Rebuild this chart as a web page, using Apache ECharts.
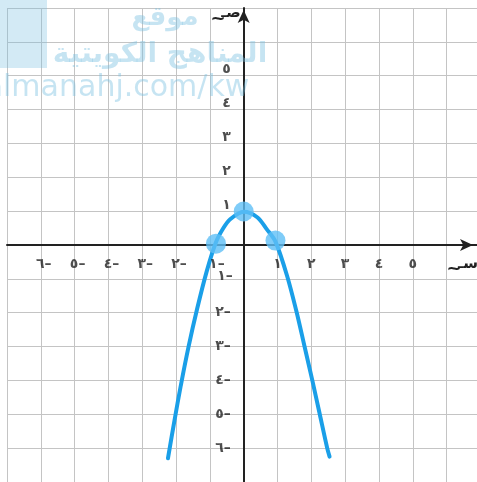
<!DOCTYPE html>
<html>
<head>
<meta charset="utf-8">
<script src="https://cdn.jsdelivr.net/npm/echarts@6/dist/echarts.min.js"></script>
<style>html,body{margin:0;padding:0;background:#fff;}#c{width:477px;height:482px;}</style>
</head>
<body>
<div id="c"></div>
<script>
// Curve
const curveX = [-2.24, -2.05, -1.86, -1.63, -1.38, -1.1, -0.82, -0.6, -0.4, 0, 0.4, 0.68, 0.94, 1.28, 1.57, 1.8, 2.03, 2.25, 2.47, 2.54];
const curveY = [-6.3, -5.2, -4.15, -3, -1.9, -0.8, 0.08, 0.5, 0.76, 0.98, 0.82, 0.47, 0.1, -0.9, -2, -3, -4, -5, -6, -6.25];
// Marked points
const pointX = [-0.82, 0, 0.94];
const pointY = [0.04, 0.99, 0.13];
// Tick labels
const xTickValues = [-6, -5, -4, -3, -2, -1, 1, 2, 3, 4, 5];
const yTickValues = [-6, -5, -4, -3, -2, -1, 1, 2, 3, 4, 5];
const arabicDigits = ['٠','١','٢','٣','٤','٥','٦','٧','٨','٩'];
const xName = 'سـ';
const yName = 'صـ';

const LRO = '\u202D', PDF = '\u202C';
function toArabic(v) {
  const d = String(Math.abs(v)).split('').map(c => arabicDigits[+c]).join('');
  return LRO + (v < 0 ? d + '–' : d) + PDF;
}

const chart = echarts.init(document.getElementById('c'), null, {renderer: 'canvas'});
const lblFont = {fontFamily: 'DejaVu Sans', fontWeight: 'bold', fontSize: 14, color: '#222'};

function xOffset(v) { return v === -1 ? [7, 19] : (v < 0 ? [3, 19] : [0, 19]); }
function yOffset(v) { return v > 0 ? [-13, -6] : (v === -1 ? [-11, -2] : [-13, 0]); }

chart.setOption({
  animation: false,
  backgroundColor: '#fff',
  grid: {left: 7, right: 0, top: 8, bottom: 0, containLabel: false, outerBoundsMode: 'none'},
  xAxis: {
    type: 'value', min: -7, max: 6.9, interval: 1,
    axisLine: {show: true, onZero: true, lineStyle: {color: '#222', width: 2}, symbol: ['none', 'arrow'], symbolSize: [9, 13], symbolOffset: [0, -4]},
    axisTick: {show: false},
    splitLine: {show: true, lineStyle: {color: '#c4c4c4', width: 1}},
    axisLabel: {show: false}
  },
  yAxis: {
    type: 'value', min: -7, max: 7, interval: 1,
    axisLine: {show: true, onZero: true, lineStyle: {color: '#222', width: 2}, symbol: ['none', 'arrow'], symbolSize: [9, 13], symbolOffset: [0, -2]},
    axisTick: {show: false},
    splitLine: {show: true, lineStyle: {color: '#c4c4c4', width: 1}},
    axisLabel: {show: false}
  },
  graphic: [
    {type: 'rect', shape: {x: 0, y: 0, width: 47, height: 68}, style: {fill: 'rgba(120,190,225,0.33)'}, z: 100, silent: true},
    {type: 'text', x: 165, y: 18, style: {text: 'موقع', font: 'bold 26px "DejaVu Sans"', fill: 'rgba(120,190,225,0.42)', align: 'center', verticalAlign: 'middle'}, z: 100},
    {type: 'text', x: 160, y: 55, style: {text: 'المناهج الكويتية', font: 'bold 28px "DejaVu Sans"', fill: 'rgba(120,190,225,0.42)', align: 'center', verticalAlign: 'middle'}, z: 100},
    {type: 'text', x: 117, y: 88, style: {text: 'almanahj.com/kw', font: '30px "DejaVu Sans"', fill: 'rgba(120,190,225,0.42)', align: 'center', verticalAlign: 'middle'}, z: 100},
    {type: 'text', x: 454, y: 269, style: {text: '~', font: 'bold 18px "DejaVu Sans"', fill: '#222', align: 'center', verticalAlign: 'middle'}, z: 100},
    {type: 'text', x: 468, y: 264, style: {text: xName, font: 'bold 15px "DejaVu Sans"', fill: '#222', align: 'center', verticalAlign: 'middle'}, z: 100},
    {type: 'text', x: 218, y: 19, style: {text: '~', font: 'bold 18px "DejaVu Sans"', fill: '#222', align: 'center', verticalAlign: 'middle'}, z: 100},
    {type: 'text', x: 231, y: 13, style: {text: yName, font: 'bold 15px "DejaVu Sans"', fill: '#222', align: 'center', verticalAlign: 'middle'}, z: 100}
  ],
  series: [
    {
      type: 'line', smooth: 0.3, symbol: 'none',
      data: curveX.map((x, i) => [x, curveY[i]]),
      lineStyle: {color: '#1a9fe8', width: 4, cap: 'round'},
      z: 3
    },
    {
      type: 'scatter', symbol: 'circle', symbolSize: 20,
      data: pointX.map((x, i) => [x, pointY[i]]),
      itemStyle: {color: '#5fbff6'},
      z: 4
    },
    {
      type: 'scatter', symbolSize: 0, silent: true,
      data: xTickValues.map(v => ({value: [v, 0], label: {offset: xOffset(v)}})),
      label: Object.assign({show: true, position: 'inside', align: 'center', verticalAlign: 'middle',
        formatter: p => toArabic(p.value[0])}, lblFont),
      z: 5
    },
    {
      type: 'scatter', symbolSize: 0, silent: true,
      data: yTickValues.map(v => ({value: [0, v], label: {offset: yOffset(v)}})),
      label: Object.assign({show: true, position: 'inside', align: 'right', verticalAlign: 'middle',
        formatter: p => toArabic(p.value[1])}, lblFont),
      z: 5
    }
  ]
});
</script>
</body>
</html>
